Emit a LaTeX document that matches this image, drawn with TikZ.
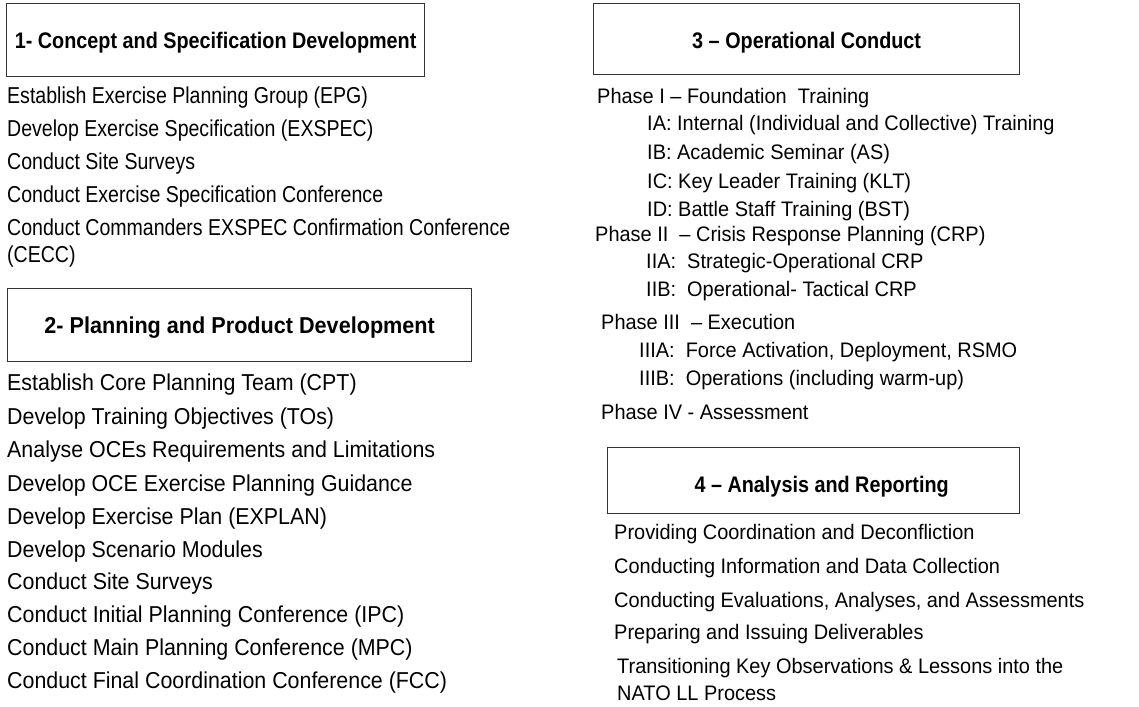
\documentclass[tikz,border=0pt]{standalone}
\usepackage{fontspec}
\setmainfont{Liberation Sans}
\newfontfamily\listfontA[Ligatures=TeX,FakeStretch=0.85]{Liberation Sans}
\newfontfamily\listfontB[Ligatures=TeX,FakeStretch=0.93]{Liberation Sans}
\newfontfamily\listfontC[Ligatures=TeX,FakeStretch=0.95]{Liberation Sans}
\newfontfamily\headfontA[Ligatures=TeX,FakeStretch=0.88]{Liberation Sans}
\newfontfamily\headfontB[Ligatures=TeX,FakeStretch=0.94]{Liberation Sans}
\usepackage{tikz}

\tikzset{
  headbox/.style={draw=black!80, line width=1.3pt, anchor=north west, text height=45pt,
    font=\headfontA\bfseries\fontsize{22.5}{26}\selectfont},
  itemA/.style={anchor=base west, font=\listfontA\fontsize{23}{27}\selectfont},
  itemB/.style={anchor=base west, font=\listfontB\fontsize{23}{27}\selectfont},
  itemC/.style={anchor=base west, font=\listfontC\fontsize{21}{25}\selectfont}
}

\begin{document}
\begin{tikzpicture}[x=1pt,y=1pt]
\tikzstyle{every node}+=[inner sep=0pt]
\useasboundingbox (0,0) rectangle (1139,-706);
% phase headers
\node [headbox, minimum width=418pt, text depth=28pt] (h1) at (6,-3) {1- Concept and Specification Development};
\node [headbox, minimum width=464pt, text depth=28pt, font=\headfontB\bfseries\fontsize{23}{27}\selectfont] (h2) at (7,-288) {2- Planning and Product Development};
\node [headbox, minimum width=426pt, text depth=26pt] (h3) at (593,-3) {3 -- Operational Conduct};
\node [headbox, minimum width=412pt, text depth=21pt] (h4) at (607,-447) {\hspace{16pt}4 -- Analysis and Reporting};
% 1
\node [itemA] (c1) at (7,-104) {Establish Exercise Planning Group (EPG)};
\node [itemA] (c2) at (7,-136) {Develop Exercise Specification (EXSPEC)};
\node [itemA] (c3) at (7,-169) {Conduct Site Surveys};
\node [itemA] (c4) at (7,-202) {Conduct Exercise Specification Conference};
\node [itemA] (c5) at (7,-235) {Conduct Commanders EXSPEC Confirmation Conference};
\node [itemA] (c6) at (7,-262) {(CECC)};
% 2
\node [itemB] (p1) at (7,-390) {Establish Core Planning Team (CPT)};
\node [itemB] (p2) at (7,-424) {Develop Training Objectives (TOs)};
\node [itemB] (p3) at (7,-457) {Analyse OCEs Requirements and Limitations};
\node [itemB] (p4) at (7,-491) {Develop OCE Exercise Planning Guidance};
\node [itemB] (p5) at (7,-524) {Develop Exercise Plan (EXPLAN)};
\node [itemB] (p6) at (7,-557) {Develop Scenario Modules};
\node [itemB] (p7) at (7,-589) {Conduct Site Surveys};
\node [itemB] (p8) at (7,-622) {Conduct Initial Planning Conference (IPC)};
\node [itemB] (p9) at (7,-655) {Conduct Main Planning Conference (MPC)};
\node [itemB] (p10) at (7,-688) {Conduct Final Coordination Conference (FCC)};
% 3
\node [itemC] (o1) at (597,-104) {Phase I -- Foundation\ \ Training};
\node [itemC] (o1a) at (647,-131) {IA: Internal (Individual and Collective) Training};
\node [itemC] (o1b) at (647,-159) {IB: Academic Seminar (AS)};
\node [itemC] (o1c) at (647,-188) {IC: Key Leader Training (KLT)};
\node [itemC] (o1d) at (647,-216) {ID: Battle Staff Training (BST)};
\node [itemC] (o2) at (595,-241) {Phase II\ \ -- Crisis Response Planning (CRP)};
\node [itemC] (o2a) at (646,-268) {IIA:\ \ Strategic-Operational CRP};
\node [itemC] (o2b) at (646,-296) {IIB:\ \ Operational- Tactical CRP};
\node [itemC] (o3) at (601,-329) {Phase III\ \ -- Execution};
\node [itemC] (o3a) at (639,-357) {IIIA:\ \ Force Activation, Deployment, RSMO};
\node [itemC] (o3b) at (639,-385) {IIIB:\ \ Operations (including warm-up)};
\node [itemC] (o4) at (601,-419) {Phase IV - Assessment};
% 4
\node [itemC] (a1) at (614,-539) {Providing Coordination and Deconfliction};
\node [itemC] (a2) at (614,-573) {Conducting Information and Data Collection};
\node [itemC] (a3) at (614,-607) {Conducting Evaluations, Analyses, and Assessments};
\node [itemC] (a4) at (614,-639) {Preparing and Issuing Deliverables};
\node [itemC] (a5) at (617,-673) {Transitioning Key Observations \& Lessons into the};
\node [itemC] (a6) at (617,-700) {NATO LL Process};
\end{tikzpicture}
\end{document}
